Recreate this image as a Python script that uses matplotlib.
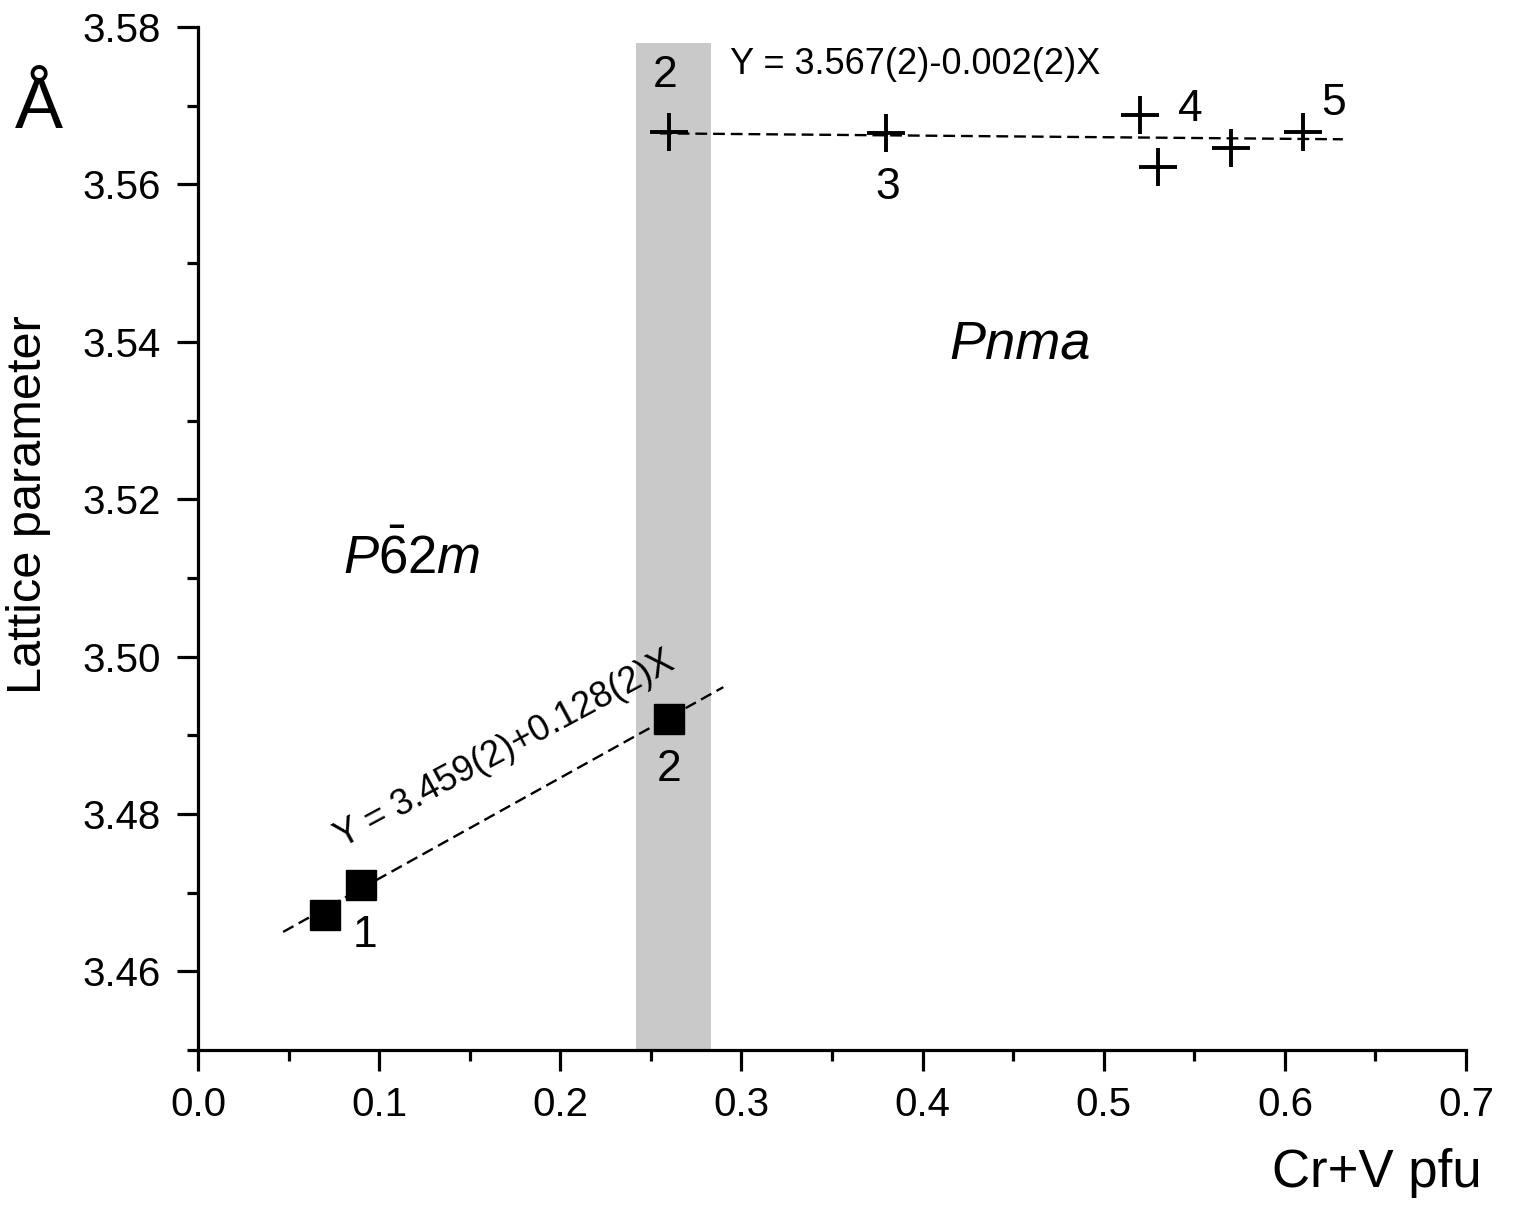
import matplotlib
matplotlib.use("Agg")
import matplotlib.pyplot as plt
import numpy as np
from matplotlib.ticker import MultipleLocator, FormatStrFormatter

plt.rcParams['font.family'] = ['Liberation Sans', 'DejaVu Sans']
plt.rcParams['mathtext.fontset'] = 'custom'
plt.rcParams['mathtext.rm'] = 'Liberation Sans'
plt.rcParams['mathtext.it'] = 'Liberation Sans:italic'

# Data
hex_x = [0.07, 0.09, 0.26]
hex_y = [3.4672, 3.4710, 3.4921]

orth_x = [0.26, 0.38, 0.52, 0.53, 0.57, 0.61]
orth_y = [3.5666, 3.5665, 3.5688, 3.5622, 3.5646, 3.5667]

point_labels = ["1", "2", "2", "3", "4", "5"]
label_x = [0.0923, 0.260, 0.258, 0.381, 0.548, 0.627]
label_y = [3.4645, 3.4856, 3.5739, 3.5596, 3.5695, 3.5703]

fit1_x = [0.047, 0.29]
fit1_a, fit1_b = 3.459, 0.128
fit2_x = [0.255, 0.632]
fit2_a, fit2_b = 3.567, -0.002

band_x = [0.242, 0.283]
band_ytop = 3.578

fig = plt.figure(figsize=(15.15, 12.07), dpi=100)
ax = fig.add_axes([0.1307, 0.130, 0.8370, 0.8476])
ax.set_xlim(0, 0.7)
ax.set_ylim(3.45, 3.58)

ax.fill_between(band_x, 3.45, band_ytop, color='#c9c9c9', lw=0, zorder=0, clip_on=False)

fx1 = np.array(fit1_x)
ax.plot(fx1, fit1_a + fit1_b * fx1, color='black', ls=(0, (5, 2.5)), lw=1.7, zorder=2)
fx2 = np.array(fit2_x)
ax.plot(fx2, fit2_a + fit2_b * fx2, color='black', ls=(0, (5, 2.5)), lw=1.7, zorder=2)

ax.plot(hex_x, hex_y, ls='none', marker='s', ms=21, color='black', zorder=3)
ax.plot(orth_x, orth_y, ls='none', marker='+', ms=27, mew=2.8, color='black', zorder=3,
        clip_on=False)

for t, lx, ly in zip(point_labels, label_x, label_y):
    ax.text(lx, ly, t, fontsize=32, ha='center', va='center')

ax.text(0.396, 3.5752, "Y = 3.567(2)-0.002(2)X", fontsize=26, ha='center', va='center')
ax.text(0.1696, 3.4882, "Y = 3.459(2)+0.128(2)X", fontsize=26, ha='center', va='center',
        rotation=28.3, rotation_mode='anchor')

ax.text(0.454, 3.5397, "Pnma", fontsize=39, style='italic', ha='center', va='center')
ax.text(0.118, 3.5125, r"$P\bar{6}2m$", fontsize=38, ha='center', va='center')

for s in ['top', 'right']:
    ax.spines[s].set_visible(False)
for s in ['left', 'bottom']:
    ax.spines[s].set_linewidth(2.3)

ax.xaxis.set_major_locator(MultipleLocator(0.1))
ax.xaxis.set_minor_locator(MultipleLocator(0.05))
ax.yaxis.set_major_locator(MultipleLocator(0.02))
ax.yaxis.set_minor_locator(MultipleLocator(0.01))
ax.tick_params(which='major', length=15, width=2.3, labelsize=29)
ax.tick_params(which='minor', length=8, width=2.3)
ax.tick_params(axis='x', which='major', pad=11)
ax.tick_params(axis='y', which='major', pad=12)
ax.xaxis.set_major_formatter(FormatStrFormatter('%.1f'))
ax.yaxis.set_major_formatter(FormatStrFormatter('%.2f'))

fig.text(0.019, 0.582, "Lattice parameter", fontsize=35, rotation=90, ha='center', va='center')
fig.text(0.909, 0.028, "Cr+V pfu", fontsize=38, ha='center', va='center')
fig.text(0.0257, 0.894, "Å", fontsize=52, ha='center', va='baseline')

fig.savefig("out.png", dpi=100)
